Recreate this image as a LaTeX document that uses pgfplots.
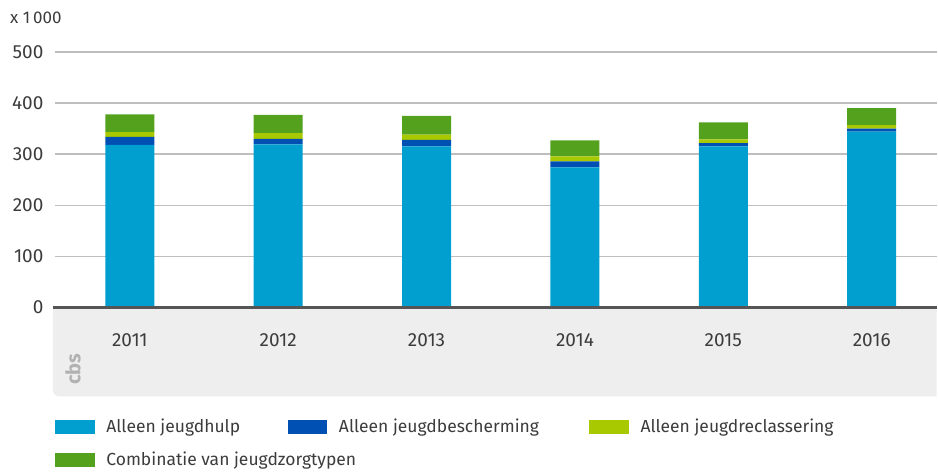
\documentclass[border=0pt]{standalone}
\usepackage{fontspec}
\setmainfont{Fira Sans}
\usepackage{pgfplots}
\pgfplotsset{compat=1.18}

\definecolor{hulp}{RGB}{0,159,208}
\definecolor{bescherming}{RGB}{0,80,180}
\definecolor{reclassering}{RGB}{168,200,0}
\definecolor{combinatie}{RGB}{83,161,29}
\definecolor{bandgray}{RGB}{238,238,238}
\definecolor{gridgray}{RGB}{190,190,190}
\definecolor{axisgray}{RGB}{85,85,85}
\definecolor{txt}{RGB}{60,60,60}

\begin{document}
\begin{tikzpicture}[x=1pt,y=1pt,font=\fontsize{17.5}{19}\selectfont]
\path (0,0) rectangle (938,469);
% grey band under the axis
\fill[bandgray] (938,161) -- (53,161) [rounded corners=6pt] -- (53,72) [sharp corners] -- (938,72) -- cycle;

\begin{axis}[
    at={(55pt,161pt)}, anchor=south west,
    scale only axis,
    width=883pt, height=256pt,
    ybar stacked,
    bar width=49pt,
    xmin=-0.505, xmax=5.437,
    ymin=0, ymax=500,
    ytick={0,100,...,500},
    xtick={0,...,5},
    xticklabels={2011,2012,2013,2014,2015,2016},
    ymajorgrids,
    grid style={line width=1.5pt, gridgray},
    axis line style={draw=none},
    major tick length=0pt,
    tick label style={text=txt, font=\fontsize{19}{21}\selectfont},
    /pgf/number format/assume math mode=true,
    yticklabel style={anchor=east, xshift=-8pt},
    xticklabel style={anchor=base, yshift=-39pt},
    every axis plot/.append style={draw=none},
    clip=false,
]
\addplot[fill=hulp] coordinates {(0,318) (1,319) (2,315) (3,274) (4,315) (5,344)};
\addplot[fill=bescherming] coordinates {(0,16) (1,11) (2,13) (3,12) (4,6.5) (5,6)};
\addplot[fill=reclassering] coordinates {(0,9) (1,11) (2,10) (3,9.5) (4,7.5) (5,7)};
\addplot[fill=combinatie] coordinates {(0,35) (1,36) (2,37) (3,31.5) (4,33) (5,33)};
\end{axis}

\draw[line width=3pt, axisgray] (53,161) -- (938,161);
\node[anchor=west, text=txt, inner sep=0pt, font=\fontsize{17}{19}\selectfont] at (10,451) {x 1\,000};
% cbs logo
\node[rotate=90, text=gray!60, font=\fontsize{20}{20}\selectfont\bfseries, inner sep=0pt] at (73,99) {cbs};

% legend
\fill[hulp] (55,34) rectangle (95,48);
\node[anchor=west, text=txt] at (103,41) {Alleen jeugdhulp};
\fill[bescherming] (288,34) rectangle (328,48);
\node[anchor=west, text=txt] at (336,41) {Alleen jeugdbescherming};
\fill[reclassering] (590,34) rectangle (630,48);
\node[anchor=west, text=txt] at (638,41) {Alleen jeugdreclassering};
\fill[combinatie] (55,1) rectangle (95,15);
\node[anchor=west, text=txt] at (103,8) {Combinatie van jeugdzorgtypen};
\end{tikzpicture}
\end{document}
